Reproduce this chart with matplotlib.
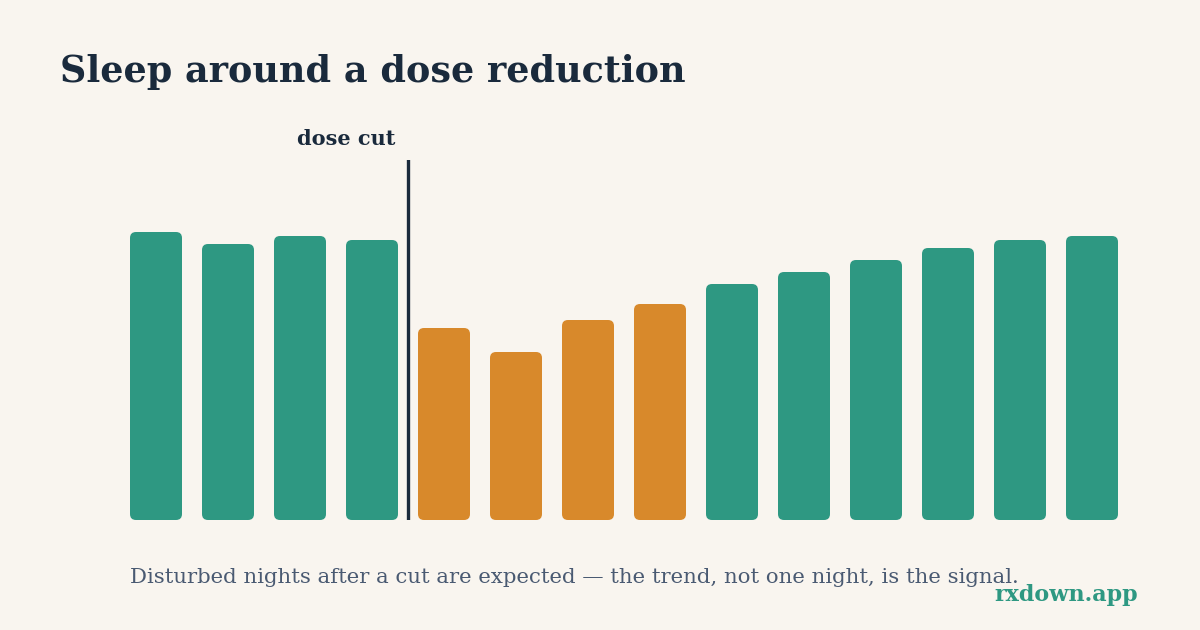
import matplotlib
matplotlib.use('Agg')
import matplotlib.pyplot as plt
from matplotlib.patches import FancyBboxPatch

# sleep hours per night, 4 before and 10 after the dose cut
nights = list(range(14))
hours = [7.2, 6.9, 7.1, 7.0, 4.8, 4.2, 5.0, 5.4, 5.9, 6.2, 6.5, 6.8, 7.0, 7.1]
disturbed = [False] * 4 + [True] * 4 + [False] * 6
cut_after = 3.5

BG = '#f9f5ef'
GREEN = '#2e9882'
ORANGE = '#d8892b'
INK = '#1a2a3c'
SERIF = ['DejaVu Serif']

fig = plt.figure(figsize=(12, 6.3), dpi=100, facecolor=BG)
# axes: 120..1128 px wide, bottom at 520 px, top at 160 px
ax = fig.add_axes([120 / 1200, 110 / 630, 1008 / 1200, 360 / 630])
ax.set_facecolor(BG)
ax.set_xlim(-0.5, 13.5)
ax.set_ylim(0, 9)
ax.axis('off')

w = 52 / 72
px_x = 1 / 72   # data units per pixel
px_y = 9 / 360
for x, h, d in zip(nights, hours, disturbed):
    p = FancyBboxPatch((x - w / 2, 0), w, h,
                       boxstyle='round,pad=0,rounding_size=%f' % (6 * px_x),
                       mutation_aspect=px_y / px_x,
                       facecolor=ORANGE if d else GREEN, edgecolor='none')
    ax.add_patch(p)

ax.axvline(cut_after, ymin=0, ymax=1, color=INK, lw=2.4)
ax.text(cut_after - 13 * px_x, 9 + 15 * px_y, 'dose cut', ha='right', va='baseline',
        fontsize=15, fontweight='bold', family=SERIF, color=INK)

fig.text(60 / 1200, 1 - 82 / 630, 'Sleep around a dose reduction', ha='left', va='baseline',
         fontsize=26.3, fontweight='bold', family=SERIF, color=INK)
fig.text(130 / 1200, 1 - 583 / 630,
         'Disturbed nights after a cut are expected \u2014 the trend, not one night, is the signal.',
         ha='left', va='baseline', fontsize=15.3, family=SERIF, color='#4a5a72')
fig.text(1138 / 1200, 1 - 601 / 630, 'rxdown.app', ha='right', va='baseline',
         fontsize=16, fontweight='bold', family=SERIF, color=GREEN)

fig.savefig('out.png', dpi=100, facecolor=BG)
